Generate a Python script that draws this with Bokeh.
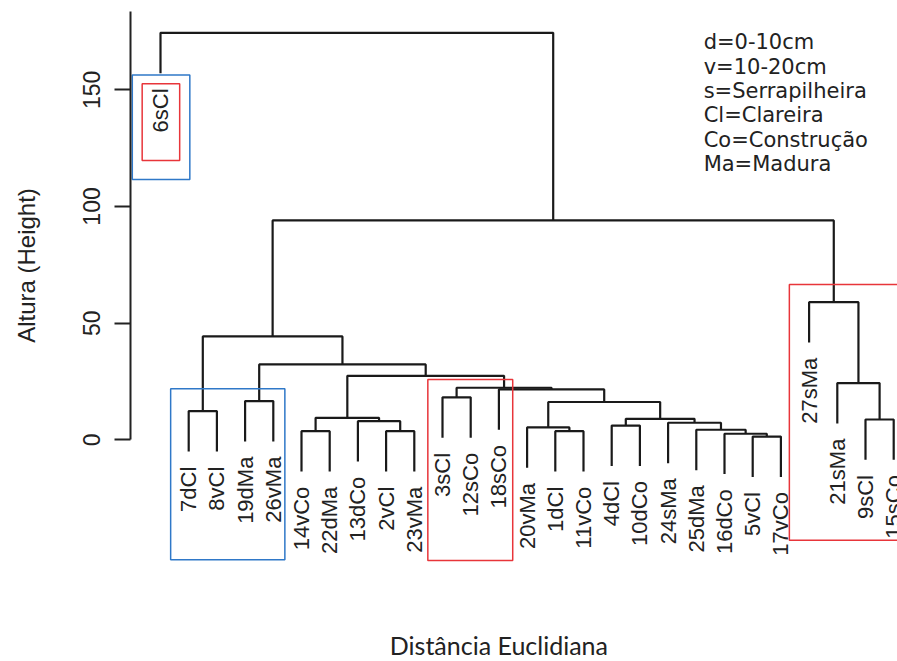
import math

from bokeh.core.properties import value
from bokeh.embed import file_html
from bokeh.models import FixedTicker, Range1d
from bokeh.plotting import figure
from bokeh.resources import INLINE

# Samples in dendrogram leaf order, left to right
leaf_labels = [
    "6sCl", "7dCl", "8vCl", "19dMa", "26vMa", "14vCo", "22dMa", "13dCo", "2vCl",
    "23vMa", "3sCl", "12sCo", "18sCo", "20vMa", "1dCl", "11vCo", "4dCl", "10dCo",
    "24sMa", "25dMa", "16dCo", "5vCl", "17vCo", "27sMa", "21sMa", "9sCl", "15sCo",
]

# Agglomeration steps (hclust convention): negative = leaf position, positive = earlier step
merge_left = [-22, -21, -15, -6, -9, -20, -14, -17, -19, -8, -26, 8, 4, -2, 7, -4,
              -11, -13, 17, -25, 13, 16, 14, -24, 23, -1]
merge_right = [-23, 1, -16, -7, -10, 2, 3, -18, 6, 5, -27, 9, 10, -3, 12, -5,
               -12, 15, 18, 11, 19, 21, 22, 20, 24, 25]
merge_height = [1.4, 2.6, 3.7, 3.7, 3.7, 4.3, 5.3, 6.1, 7.3, 8.0, 8.7, 9.0, 9.4,
                12.3, 16.2, 16.6, 18.2, 21.6, 22.3, 24.3, 27.4, 32.3, 44.3, 59.0,
                94.0, 174.4]

y_ticks = [0, 50, 100, 150]

legend_lines = ["d=0-10cm", "v=10-20cm", "s=Serrapilheira", "Cl=Clareira",
                "Co=Construção", "Ma=Madura"]

# Highlight boxes around groups
box_left = [0.0, 0.35, 1.36, 10.48, 23.3]
box_right = [2.04, 1.68, 5.41, 13.49, 28.5]
box_bottom = [111.6, 119.7, -51.4, -51.7, -43.1]
box_top = [156.3, 152.6, 21.9, 25.8, 66.6]
box_color = ["#2f78c8", "#e8353a", "#2f78c8", "#e8353a", "#e8353a"]

# ---- dendrogram geometry -------------------------------------------------
hang = 0.1 * (max(merge_height) - min(merge_height))
node_x, node_y = {}, {}
leaf_end = {}
seg_xs, seg_ys = [], []
for step, (a, b, h) in enumerate(zip(merge_left, merge_right, merge_height), start=1):
    ends = []
    for child in (a, b):
        if child < 0:
            cx, cy = -child, h - hang
            leaf_end[-child] = cy
        else:
            cx, cy = node_x[child], node_y[child]
        ends.append((cx, cy))
    (xa, ya), (xb, yb) = ends
    seg_xs.append([xa, xa, xb, xb])
    seg_ys.append([ya, h, h, yb])
    node_x[step] = (xa + xb) / 2
    node_y[step] = h

leaf_pos = list(range(1, len(leaf_labels) + 1))
label_gap = 6.5
label_y = [leaf_end[i] - label_gap for i in leaf_pos]

# ---- figure ---------------------------------------------------------------
W, H = 897, 661
px_per_x = 28.2
px_per_y = 2.3333
first_leaf_px = 160
zero_px = 439.3
axis_px = 130
x0 = 1 - first_leaf_px / px_per_x
x1 = x0 + W / px_per_x
y1 = zero_px / px_per_y
y0 = -(H - zero_px) / px_per_y

p = figure(width=W, height=H, x_range=Range1d(x0, x1), y_range=Range1d(y0, y1),
           output_backend="svg", toolbar_location=None, x_axis_location=None,
           min_border_left=0, min_border_right=0, min_border_top=0,
           min_border_bottom=0)
p.outline_line_color = None
p.grid.visible = False
p.background_fill_color = "white"
p.border_fill_color = "white"

ax = p.yaxis[0]
ax.fixed_location = x0 + axis_px / px_per_x
ax.ticker = FixedTicker(ticks=y_ticks)
ax.bounds = (0, 183.7)
ax.axis_line_width = 2
ax.axis_line_color = "#222222"
ax.major_tick_out = 16
ax.major_tick_in = 0
ax.major_tick_line_width = 2
ax.major_tick_line_color = "#222222"
ax.minor_tick_out = 0
ax.minor_tick_in = 0
ax.major_label_orientation = "vertical"
ax.major_label_text_font = "Liberation Sans"
ax.major_label_text_font_size = "23px"
ax.major_label_text_color = "#222222"
ax.major_label_standoff = 14

# tree
p.multi_line(xs=seg_xs, ys=seg_ys, line_color="#1a1a1a", line_width=2.2)

# leaf labels
p.text(x=leaf_pos, y=label_y, text=leaf_labels, angle=math.pi / 2,
       text_align="right", text_baseline="middle",
       text_font=value("Liberation Sans"),
       text_font_size="22px", text_color="#222222")

# highlight boxes
p.quad(left=box_left, right=box_right, bottom=box_bottom, top=box_top,
       fill_color=None, line_color=box_color, line_width=1.5)

# code key
key_y = [170.3 - 10.4 * i for i in range(len(legend_lines))]
p.text(x=[20.26] * len(legend_lines), y=key_y, text=legend_lines,
       text_align="left", text_baseline="middle",
       text_font=value("DejaVu Sans"), text_font_size="21px", text_color="#222222")

# axis titles
p.text(x=[13.0], y=[-88.0], text=["Distância Euclidiana"], text_align="center",
       text_baseline="middle", text_font=value("Lato"),
       text_font_size="25px", text_color="#222222")
p.text(x=[-3.75], y=[74.7], text=["Altura (Height)"], angle=math.pi / 2,
       text_align="center", text_baseline="middle",
       text_font=value("Liberation Sans"), text_font_size="24px",
       text_color="#222222")

open("out.html", "w").write(file_html(p, INLINE))
